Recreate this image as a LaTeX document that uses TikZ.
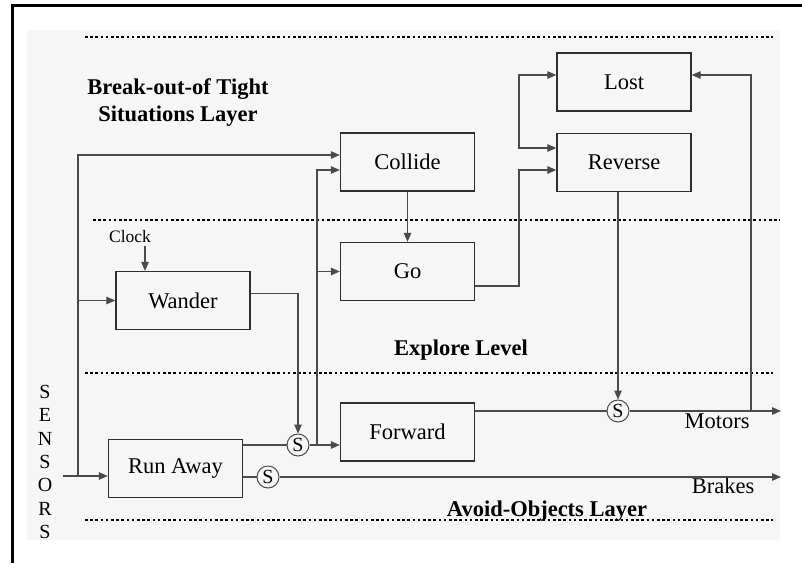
\documentclass[tikz,border=0pt]{standalone}
\usepackage{fontspec}
\setmainfont{Liberation Serif}
\usetikzlibrary{arrows.meta,calc}
\definecolor{ln}{HTML}{4A4A4A}
\definecolor{bx}{HTML}{2E2E2E}
\definecolor{bg}{HTML}{F6F6F6}
\tikzset{
  box/.style={draw=bx, line width=1.3pt, minimum width=134pt, minimum height=58pt, inner sep=0pt, font=\fontsize{22.5}{24}\selectfont},
  con/.style={draw=ln, line width=1.2pt},
  arr/.style={con, -{Triangle[length=9pt,width=7.5pt]}},
  sw/.style={circle, draw=ln, line width=1pt, minimum size=22pt, inner sep=0pt, font=\fontsize{20}{20}\selectfont},
  layer/.style={draw=black, line width=2.6pt, dash pattern=on 2.6pt off 2.6pt},
  title/.style={font=\bfseries\fontsize{22.5}{27}\selectfont, inner sep=0pt},
  lab/.style={font=\fontsize{22.5}{24}\selectfont, inner sep=0pt}
}
\begin{document}
\begin{tikzpicture}[x=1pt,y=-1pt]
\useasboundingbox (0,0) rectangle (802,563);
\fill[bg] (27,30) rectangle (780,540);
\draw[line width=3pt] (12,563) -- (12,5.5) -- (802,5.5);

% layer separators
\draw[layer] (85,37) -- (773,37);
\draw[layer] (93,220) -- (780,220);
\draw[layer] (85,373) -- (773,373);
\draw[layer] (85,520) -- (773,520);

% layer titles
\node[title, align=center, anchor=north] (t1) at (178,78) {Break-out-of Tight\\Situations Layer};
\node[title, anchor=base] (t2) at (461,355) {Explore Level};
\node[title, anchor=base] (t3) at (547,516) {Avoid-Objects Layer};

% sensors
\node[align=center, inner sep=0pt, font=\fontsize{20}{23.3}\selectfont] (sens) at (45,462) {S\\E\\N\\S\\O\\R\\S};

% boxes
\node[box] (lost) at (624,82) {Lost};
\node[box] (reverse) at (624,162.5) {Reverse};
\node[box] (collide) at (407.5,162) {Collide};
\node[box] (go) at (407.5,271.5) {Go};
\node[box] (wander) at (183,300.5) {Wander};
\node[box] (forward) at (407.5,432) {Forward};
\node[box] (runaway) at (175.5,468.5) {Run Away};

% suppressors
\node[sw] (s1) at (298,445) {S};
\node[sw] (s2) at (618,411) {S};
\node[sw] (s3) at (268,477) {S};

% labels
\node[lab, font=\fontsize{17.5}{20}\selectfont, anchor=base] (clock) at (130,242) {Clock};
\node[lab, anchor=base] (motors) at (717,428) {Motors};
\node[lab, anchor=base] (brakes) at (723,493) {Brakes};

% coordinates
\coordinate (sin) at (63,476);
\coordinate (jS) at (78,476);
\coordinate (ck) at (145,246);
\coordinate (j2) at (317,445);
\coordinate (bx1) at (519,228);
\coordinate (bb) at (519,111);
\coordinate (mo) at (781,411);
\coordinate (jm) at (751,411);
\coordinate (br) at (781,477);

% connectors
\draw[arr] (sin) -- (sin -| runaway.west);
\draw[arr] (jS) |- ($(collide.west)+(0,-7)$);
\draw[arr] (jS |- wander.west) -- (wander.west);
\draw[arr] (ck) -- (ck |- wander.north);
\draw[arr] ($(wander.east)+(0,-7)$) -| (s1.north);
\draw[con] (runaway.east |- s1) -- (s1.west);
\draw[arr] (s1.east) -- (s1 -| forward.west);
\draw[arr] (j2) |- ($(collide.west)+(0,8)$);
\draw[arr] (j2 |- go.west) -- (go.west);
\draw[arr] (collide.south) -- (go.north);
\draw[arr] ($(go.east)+(0,14.5)$) -| (bx1) |- ($(reverse.west)+(0,7.5)$);
\draw[arr] (bb) |- ($(lost.west)+(0,-7)$);
\draw[arr] (bb) |- ($(reverse.west)+(0,-14.5)$);
\draw[arr] (reverse.south -| s2) -- (s2.north);
\draw[con] (forward.east |- s2) -- (s2.west);
\draw[arr] (s2.east) -- (mo);
\draw[arr] (jm) |- ($(lost.east)+(0,-7)$);
\draw[con] (runaway.east |- s3) -- (s3.west);
\draw[arr] (s3.east) -- (br);
\end{tikzpicture}
\end{document}
